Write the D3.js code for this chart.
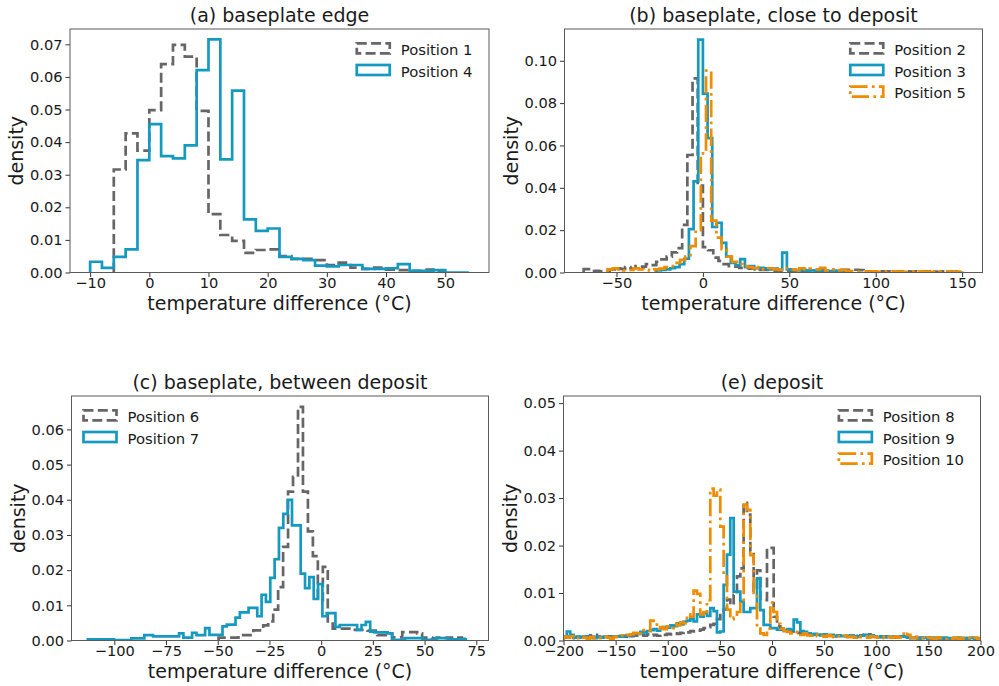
<!DOCTYPE html>
<html lang="en">
<head>
<meta charset="UTF-8">
<title>Temperature difference histograms</title>
<script src="https://d3js.org/d3.v7.min.js"></script>
<style>
  body { margin: 0; background: #fff; }
  svg text { font-family: "DejaVu Sans", sans-serif; fill: #1a1a1a; }
  .tick text { font-size: 14.6px; }
  .axis-label, .title { font-size: 19px; }
  .legend text { font-size: 14.8px; }
  .spine { fill: none; stroke: #5a5a5a; stroke-width: 1; }
  .hist { fill: none; stroke-width: 2.7; stroke-linejoin: miter; }
</style>
</head>
<body>
<svg id="chart" width="999" height="686"></svg>
<script>
// ---- data: density per bin, bins given as [first edge, bin width] ----

// (a) baseplate edge
const p1Bins = [-6, 2];
const p1Density = [0.0316, 0.0427, 0.0374, 0.0498, 0.0639, 0.0698, 0.0662, 0.0496, 0.0179, 0.0115,
  0.0097, 0.006, 0.0069, 0.0071, 0.005, 0.0042, 0.0042, 0.0038, 0.0023, 0.003,
  0.0015, 0.0011, 0.0015, 0.0009, 0.0007, 0.0005, 0.0009, 0.0003];
const p4Bins = [-10, 2];
const p4Density = [0.0033, 0.0014, 0.0048, 0.0071, 0.0345, 0.0455, 0.0357, 0.035, 0.039, 0.0621,
  0.0715, 0.0347, 0.0558, 0.0163, 0.0128, 0.0135, 0.0048, 0.0042, 0.0038, 0.0021,
  0.0019, 0.0023, 0.0023, 0.0011, 0.0011, 0.0013, 0.0026, 0.0005, 0.0005, 0.0007, 0, 0];

// (b) baseplate, close to deposit
const p2Bins = [-69, 3];
const p2Density = [0.0016, 0.0016, 0.0008, 0.0006, 0.0008, 0.0015, 0.002, 0.0017, 0.0025, 0.002,
  0.003, 0.0028, 0.004, 0.0035, 0.005, 0.0062, 0.0075, 0.0095, 0.0115, 0.0225,
  0.0555, 0.0917, 0.041, 0.012, 0.0105, 0.007, 0.0055, 0.004, 0.003, 0.0028,
  0.0022, 0.002, 0.0018, 0.0015, 0.0012, 0.0012, 0.001, 0.0009, 0.0008, 0.0008,
  0.0007, 0.0006, 0.0008, 0.0007, 0.0006, 0.0009, 0.0007, 0.0006, 0.0008, 0.0012,
  0.0013, 0.0012, 0.0013, 0.0011, 0.0006, 0.0005, 0.0004, 0.0006, 0.0005, 0.0004,
  0.0005, 0.0004, 0.0005, 0.0003, 0.0005, 0.0004, 0.0005, 0.0004, 0.0003, 0.0005,
  0.0004, 0.0003, 0.0005];
const p3Bins = [-27, 2.7];
const p3Density = [0.001, 0.0012, 0.0015, 0.002, 0.0025, 0.004, 0.0065, 0.0205, 0.043, 0.110,
  0.0845, 0.0635, 0.0215, 0.0235, 0.014, 0.0075, 0.0045, 0.0035, 0.0063, 0.0025,
  0.003, 0.002, 0.0022, 0.002, 0.0015, 0.0018, 0.0012, 0.0094, 0.0015, 0.0012,
  0.001, 0.0012, 0.0009, 0.001, 0.0007, 0.0012, 0.0008, 0.0006, 0.0008, 0.0005, 0.0004];
const p5Bins = [-55.2, 3];
const p5Density = [0.0015, 0.002, 0.0015, 0.001, 0.0012, 0.002, 0.0015, 0.0013, 0.001, 0.0015,
  0.0018, 0.0025, 0.003, 0.0045, 0.006, 0.0075, 0.0125, 0.02, 0.0563, 0.0953,
  0.0245, 0.0165, 0.011, 0.0075, 0.005, 0.004, 0.003, 0.0025, 0.002, 0.0025,
  0.0015, 0.002, 0.0015, 0.0012, 0.002, 0.0015, 0.0012, 0.002, 0.0015, 0.0018,
  0.0015, 0.0022, 0.001, 0.0015, 0.001, 0.0012, 0.0008, 0.0005, 0.0004, 0.0005,
  0.0004, 0.0005, 0.0003, 0.0005, 0.0004, 0.0005, 0.0004, 0.0003, 0.0005, 0.0004,
  0.0005, 0.0004, 0.0003, 0.0005, 0.0004, 0.0005, 0.0003, 0.0004];

// (c) baseplate, between deposit
const p6Bins = [-49.6, 2.4];
const p6Density = [0.0008, 0.0008, 0.0008, 0.0008, 0.0015, 0.0015, 0.0015, 0.0029, 0.0029, 0.0043,
  0.0054, 0.0088, 0.0152, 0.0266, 0.0423, 0.0465, 0.0664, 0.0423, 0.031, 0.024,
  0.0115, 0.0209, 0.0054, 0.0034, 0.0034, 0.0034, 0.0034, 0.003, 0.003, 0.003,
  0.0028, 0.0028, 0.0015, 0.0015, 0.002, 0.0009, 0.0009, 0.0024, 0.0024, 0.0024,
  0.002, 0.0008, 0.0008, 0.0006, 0.0008, 0.0007, 0.0008, 0.0006, 0.0008, 0.0005];
const p7Bins = [-112.8, 2.1];
const p7Density = [0.0003, 0.0003, 0.0003, 0.0003, 0.0003, 0.0003, 0.0001, 0.0001, 0.0001, 0.0001,
  0.0006, 0.0006, 0.0006, 0.0015, 0.0015, 0.0012, 0.0012, 0.0012, 0.0012, 0.0012,
  0.0012, 0.002, 0.0008, 0.0008, 0.0022, 0.0015, 0.0015, 0.0035, 0.0016, 0.0016,
  0.0016, 0.004, 0.0045, 0.0045, 0.0065, 0.008, 0.008, 0.0093, 0.0093, 0.0069,
  0.013, 0.011, 0.0178, 0.0231, 0.032, 0.036, 0.040, 0.0327, 0.0327, 0.019,
  0.0149, 0.018, 0.0118, 0.016, 0.0069, 0.0078, 0.0078, 0.0039, 0.0044, 0.0044,
  0.0044, 0.0044, 0.003, 0.0044, 0.0053, 0.0025, 0.0023, 0.0023, 0.0023, 0.002,
  0.0002, 0.0002, 0.0002, 0.0007, 0.0007, 0.0007, 0.0007, 0.0002, 0.0002, 0.0002,
  0.0007, 0.0007, 0.0007, 0.0003, 0.0003, 0.0003, 0.0003];

// (e) deposit
const p8Bins = [-200, 3.2];
const p8Density = [0.0006, 0.0008, 0.0005, 0.0007, 0.0006, 0.0008, 0.0007, 0.0009, 0.0011, 0.0012,
  0.0008, 0.0006, 0.0007, 0.0009, 0.0008, 0.0007, 0.0009, 0.001, 0.0008, 0.001,
  0.0009, 0.0011, 0.001, 0.0012, 0.001, 0.0013, 0.0011, 0.0012, 0.001, 0.0013,
  0.0012, 0.0014, 0.0013, 0.0015, 0.0014, 0.0016, 0.0018, 0.0017, 0.002, 0.0019,
  0.0021, 0.0023, 0.0026, 0.0028, 0.0033, 0.0035, 0.0045, 0.006, 0.0065, 0.0086,
  0.0075, 0.0096, 0.0135, 0.0152, 0.029, 0.0265, 0.0188, 0.0105, 0.0148, 0.0085,
  0.0085, 0.0195, 0.0195, 0.005, 0.003, 0.0025, 0.002, 0.0022, 0.0018, 0.0015,
  0.0016, 0.0014, 0.0013, 0.0015, 0.0012, 0.0013, 0.0011, 0.0012, 0.001, 0.0011,
  0.001, 0.0009, 0.0011, 0.001, 0.0009, 0.001, 0.0008, 0.001, 0.0009, 0.0011,
  0.0012, 0.0013, 0.0011, 0.0009, 0.0008, 0.0007, 0.0009, 0.0007, 0.0008, 0.0006,
  0.0007, 0.0006, 0.0008, 0.0006, 0.0005, 0.0007, 0.0005, 0.0006, 0.0004, 0.0006,
  0.0005, 0.0004, 0.0006, 0.0005, 0.0004, 0.0005, 0.0003, 0.0005, 0.0004, 0.0003,
  0.0005, 0.0004, 0.0003, 0.0004, 0.0003];
const p9Bins = [-200, 3.2];
const p9Density = [0.0008, 0.0019, 0.0012, 0.0006, 0.0008, 0.0007, 0.0009, 0.0006, 0.0008, 0.0005,
  0.0007, 0.0006, 0.0008, 0.0007, 0.0006, 0.0008, 0.0009, 0.0008, 0.001, 0.0011,
  0.0012, 0.0015, 0.0014, 0.0018, 0.0017, 0.002, 0.0022, 0.0024, 0.0021, 0.0026,
  0.0028, 0.0027, 0.0032, 0.003, 0.0036, 0.0034, 0.004, 0.0042, 0.0045, 0.004,
  0.0055, 0.005, 0.0058, 0.0052, 0.0068, 0.0062, 0.0017, 0.0019, 0.0117, 0.0181,
  0.0258, 0.0103, 0.0103, 0.0082, 0.006, 0.006, 0.0068, 0.0068, 0.0131, 0.0064,
  0.0033, 0.0033, 0.0026, 0.0026, 0.0023, 0.0023, 0.002, 0.0024, 0.0022, 0.0044,
  0.0038, 0.002, 0.0018, 0.0015, 0.0013, 0.0014, 0.0012, 0.0011, 0.0013, 0.001,
  0.0012, 0.0009, 0.0011, 0.0009, 0.001, 0.0008, 0.0011, 0.0009, 0.0008, 0.001,
  0.0012, 0.0009, 0.0011, 0.0008, 0.0007, 0.0009, 0.0007, 0.0008, 0.0006, 0.0008,
  0.0007, 0.0009, 0.0008, 0.0006, 0.0005, 0.0006, 0.0004, 0.0005, 0.0006, 0.0004,
  0.0005, 0.0006, 0.0004, 0.0005, 0.0006, 0.0004, 0.0005, 0.0004, 0.0006, 0.0005,
  0.0004, 0.0005, 0.0006, 0.0004, 0.0005];
const p10Bins = [-200, 3.2];
const p10Density = [0.0008, 0.0006, 0.0009, 0.0007, 0.0005, 0.0008, 0.0006, 0.0004, 0.0007, 0.0005,
  0.0006, 0.0005, 0.0008, 0.0006, 0.0004, 0.0007, 0.0009, 0.0011, 0.001, 0.0012,
  0.0013, 0.0016, 0.0015, 0.0018, 0.0022, 0.002, 0.0042, 0.0038, 0.0025, 0.0028,
  0.0024, 0.003, 0.0026, 0.0035, 0.0032, 0.0038, 0.0036, 0.0055, 0.005, 0.0105,
  0.0098, 0.0055, 0.006, 0.0085, 0.032, 0.0305, 0.0318, 0.024, 0.0135, 0.0065,
  0.0045, 0.0048, 0.006, 0.0085, 0.0286, 0.0275, 0.018, 0.01, 0.0025, 0.0015,
  0.0012, 0.0025, 0.008, 0.006, 0.0035, 0.0025, 0.002, 0.0018, 0.0015, 0.0018,
  0.0014, 0.0012, 0.0015, 0.0011, 0.001, 0.0013, 0.0009, 0.001, 0.0008, 0.0011,
  0.0009, 0.0007, 0.0009, 0.0008, 0.001, 0.0007, 0.0008, 0.0006, 0.0009, 0.0007,
  0.0008, 0.0006, 0.0009, 0.0007, 0.0006, 0.0008, 0.0005, 0.0007, 0.0006, 0.0008,
  0.0006, 0.001, 0.0018, 0.0012, 0.0006, 0.0005, 0.0007, 0.0005, 0.0004, 0.0006,
  0.0005, 0.0004, 0.0006, 0.0005, 0.0003, 0.0005, 0.0004, 0.0006, 0.0004, 0.0005,
  0.0003, 0.0005, 0.0004, 0.0006, 0.0004];

// tick labels
const xTicksA = [-10, 0, 10, 20, 30, 40, 50];
const yTicksA = [0, 0.01, 0.02, 0.03, 0.04, 0.05, 0.06, 0.07];
const xTicksB = [-50, 0, 50, 100, 150];
const yTicksB = [0, 0.02, 0.04, 0.06, 0.08, 0.10];
const xTicksC = [-100, -75, -50, -25, 0, 25, 50, 75];
const yTicksC = [0, 0.01, 0.02, 0.03, 0.04, 0.05, 0.06];
const xTicksE = [-200, -150, -100, -50, 0, 50, 100, 150, 200];
const yTicksE = [0, 0.01, 0.02, 0.03, 0.04, 0.05];

// ---- styles ----
const grey = { color: "#666666", dash: "10 4.3" };
const blue = { color: "#1499c1", dash: null };
const orange = { color: "#f08c00", dash: "17.3 4.3 2.7 4.3" };

// ---- panel layout ----
const panels = [
  { title: "(a) baseplate edge", box: [70, 489, 29, 272.5], xDomain: [-13.4, 57.4], yDomain: [0, 0.0747],
    xTicks: xTicksA, yTicks: yTicksA, legend: "right",
    series: [
      { label: "Position 1", bins: p1Bins, values: p1Density, style: grey },
      { label: "Position 4", bins: p4Bins, values: p4Density, style: blue }] },
  { title: "(b) baseplate, close to deposit", box: [564.5, 982.5, 29, 272.5], xDomain: [-80.1, 161.8], yDomain: [0, 0.115],
    xTicks: xTicksB, yTicks: yTicksB, legend: "right",
    series: [
      { label: "Position 2", bins: p2Bins, values: p2Density, style: grey },
      { label: "Position 3", bins: p3Bins, values: p3Density, style: blue },
      { label: "Position 5", bins: p5Bins, values: p5Density, style: orange }] },
  { title: "(c) baseplate, between deposit", box: [71.5, 488.5, 396, 640.5], xDomain: [-120.7, 80.9], yDomain: [0, 0.0695],
    xTicks: xTicksC, yTicks: yTicksC, legend: "left",
    series: [
      { label: "Position 6", bins: p6Bins, values: p6Density, style: grey },
      { label: "Position 7", bins: p7Bins, values: p7Density, style: blue }] },
  { title: "(e) deposit", box: [563.5, 980.5, 396, 640.5], xDomain: [-200, 200], yDomain: [0, 0.0515],
    xTicks: xTicksE, yTicks: yTicksE, legend: "right",
    series: [
      { label: "Position 8", bins: p8Bins, values: p8Density, style: grey },
      { label: "Position 9", bins: p9Bins, values: p9Density, style: blue },
      { label: "Position 10", bins: p10Bins, values: p10Density, style: orange }] }
];

const svg = d3.select("#chart");

// step outline like a matplotlib 'step' histogram
function stepPoints(bins, values) {
  const [start, width] = bins;
  const pts = [[start, 0]];
  values.forEach((v, i) => {
    pts.push([start + i * width, v], [start + (i + 1) * width, v]);
  });
  pts.push([start + values.length * width, 0]);
  return pts;
}

panels.forEach((p, pi) => {
  const [left, right, top, bottom] = p.box;
  const x = d3.scaleLinear().domain(p.xDomain).range([left, right]);
  const y = d3.scaleLinear().domain(p.yDomain).range([bottom, top]);

  const clipId = "clip" + pi;
  svg.append("clipPath").attr("id", clipId)
    .append("rect").attr("x", left).attr("y", top)
    .attr("width", right - left).attr("height", bottom - top);

  const line = d3.line().x(d => x(d[0])).y(d => y(d[1]));

  const plot = svg.append("g").attr("clip-path", `url(#${clipId})`);
  p.series.forEach(s => {
    plot.append("path")
      .attr("class", "hist")
      .attr("d", line(stepPoints(s.bins, s.values)))
      .attr("stroke", s.style.color)
      .attr("stroke-dasharray", s.style.dash);
  });

  // axes
  const xAxis = svg.append("g")
    .attr("transform", `translate(0,${bottom})`)
    .call(d3.axisBottom(x).tickValues(p.xTicks).tickSize(4.5).tickPadding(1).tickFormat(d3.format("d")));
  const yAxis = svg.append("g")
    .attr("transform", `translate(${left},0)`)
    .call(d3.axisLeft(y).tickValues(p.yTicks).tickSize(4.5).tickPadding(3).tickFormat(d3.format(".2f")));
  [xAxis, yAxis].forEach(a => {
    a.attr("font-family", null).attr("font-size", null);
    a.select(".domain").remove();
    a.selectAll(".tick line").attr("stroke", "#333");
  });

  svg.append("rect").attr("class", "spine")
    .attr("x", left).attr("y", top)
    .attr("width", right - left).attr("height", bottom - top);

  // labels
  svg.append("text").attr("class", "title")
    .attr("x", (left + right) / 2).attr("y", top - 7.5)
    .attr("text-anchor", "middle").text(p.title);
  svg.append("text").attr("class", "axis-label")
    .attr("x", (left + right) / 2).attr("y", bottom + 37.5)
    .attr("text-anchor", "middle").text("temperature difference (°C)");
  svg.append("text").attr("class", "axis-label")
    .attr("transform", `translate(${left - 47},${(top + bottom) / 2}) rotate(-90)`)
    .attr("text-anchor", "middle").text("density");

  // legend
  const lg = svg.append("g").attr("class", "legend");
  const texts = p.series.map((s, i) => lg.append("text")
    .attr("y", top + 26 + i * 21.7).text(s.label));
  const maxW = d3.max(texts, t => t.node().getComputedTextLength());
  const textX = p.legend === "right" ? right - 16.5 - maxW : left + 56;
  texts.forEach(t => t.attr("x", textX));
  p.series.forEach((s, i) => {
    lg.append("rect")
      .attr("x", textX - 44).attr("y", top + 26 + i * 21.7 - 11.7)
      .attr("width", 33).attr("height", 10)
      .attr("fill", "none")
      .attr("stroke", s.style.color)
      .attr("stroke-width", 2.7)
      .attr("stroke-dasharray", s.style.dash);
  });
});
</script>
</body>
</html>
